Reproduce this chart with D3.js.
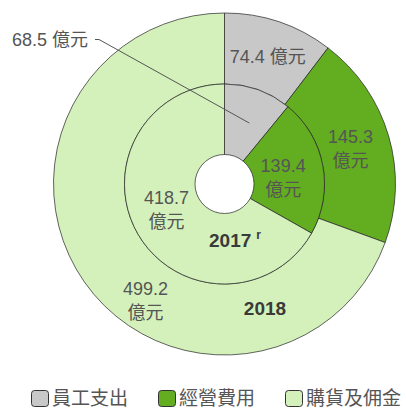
<!DOCTYPE html>
<html>
<head>
<meta charset="utf-8">
<script src="https://cdn.jsdelivr.net/npm/d3@7"></script>
<style>
  body { margin: 0; background: #fff; }
  text { font-family: "Liberation Sans", "Noto Sans CJK TC", sans-serif; }
</style>
</head>
<body>
<script>
const categories = ["員工支出", "經營費用", "購貨及佣金"];
const colors = ["#c8c8c8", "#62ad20", "#d4f1bb"];
const values2018 = [74.4, 145.3, 499.2];
const values2017 = [68.5, 139.4, 418.7];
const unit = "億元";

const width = 406, height = 409;
const cx = 224.5, cy = 184;
const rOuter = 171, rMid = 100, rHole = 29.5;

const svg = d3.select("body").append("svg")
              .attr("width", width)
              .attr("height", height);

const pie = d3.pie().sort(null).value(d => d);
const arcOuter = d3.arc().innerRadius(rMid).outerRadius(rOuter);
const arcInner = d3.arc().innerRadius(rHole).outerRadius(rMid);

const g = svg.append("g").attr("transform", `translate(${cx},${cy})`);

const outerArcs = pie(values2018);
const innerArcs = pie(values2017);

g.selectAll("path.outer")
 .data(outerArcs)
 .enter().append("path")
 .attr("class", "outer")
 .attr("d", arcOuter)
 .attr("fill", (d, i) => colors[i])
 .attr("stroke", "#222")
 .attr("stroke-width", 0.7);

g.selectAll("path.inner")
 .data(innerArcs)
 .enter().append("path")
 .attr("class", "inner")
 .attr("d", arcInner)
 .attr("fill", (d, i) => colors[i])
 .attr("stroke", "#222")
 .attr("stroke-width", 0.7);

// labels
const labelColor = "#555";
const fs = 18;

function twoLine(x, y, top, bottom) {
  const t = g.append("text")
             .attr("text-anchor", "middle")
             .attr("fill", labelColor)
             .attr("font-size", fs);
  t.append("tspan").attr("x", x).attr("y", y).text(top);
  t.append("tspan").attr("x", x).attr("y", y + 24).text(bottom);
}

// outer grey: one line
let c = arcOuter.centroid(outerArcs[0]);
g.append("text")
 .attr("x", c[0]).attr("y", c[1] + 7)
 .attr("text-anchor", "middle")
 .attr("fill", labelColor)
 .attr("font-size", fs)
 .text(values2018[0] + " " + unit);

c = arcOuter.centroid(outerArcs[1]);
twoLine(c[0] - 4, c[1] - 3, values2018[1], unit);

c = arcOuter.centroid(outerArcs[2]);
twoLine(c[0] + 32, c[1] + 33, values2018[2], unit);

c = arcInner.centroid(innerArcs[1]);
twoLine(c[0] - 5, c[1] + 0, values2017[1], unit);

c = arcInner.centroid(innerArcs[2]);
twoLine(c[0] - 2, c[1] - 13, values2017[2], unit);

// inner grey slice label, outside with leader line
c = arcInner.centroid(innerArcs[0]);
const lx = -cx + 99, ly = -cy + 39.5;
g.append("polyline")
 .attr("points", [[lx - 4, ly], [lx, ly], [c[0] + 3, c[1] + 0]].map(p => p.join(",")).join(" "))
 .attr("fill", "none")
 .attr("stroke", "#555")
 .attr("stroke-width", 1);
g.append("text")
 .attr("x", lx - 11).attr("y", ly + 6)
 .attr("text-anchor", "end")
 .attr("fill", labelColor)
 .attr("font-size", fs)
 .text(values2017[0] + " " + unit);

// year labels
const y17 = g.append("text")
  .attr("x", 235 - cx).attr("y", 246.5 - cy)
  .attr("text-anchor", "middle")
  .attr("fill", "#3a3a3a")
  .attr("font-size", 19)
  .attr("font-weight", "bold")
  .text("2017");
y17.append("tspan").attr("dx", 5).attr("dy", -8).attr("font-size", 12).text("r");

g.append("text")
 .attr("x", 265 - cx).attr("y", 315 - cy)
 .attr("text-anchor", "middle")
 .attr("fill", "#3a3a3a")
 .attr("font-size", 19)
 .attr("font-weight", "bold")
 .text("2018");

// legend
const legendX = [31, 158, 285];
const legend = svg.append("g");
categories.forEach((name, i) => {
  legend.append("rect")
        .attr("x", legendX[i] + 0.5).attr("y", 390.5)
        .attr("width", 17).attr("height", 16)
        .attr("rx", 3)
        .attr("fill", colors[i])
        .attr("stroke", "#333")
        .attr("stroke-width", 1);
  legend.append("text")
        .attr("x", legendX[i] + 21).attr("y", 405)
        .attr("fill", labelColor)
        .attr("font-size", 19)
        .text(name);
});
</script>
</body>
</html>
